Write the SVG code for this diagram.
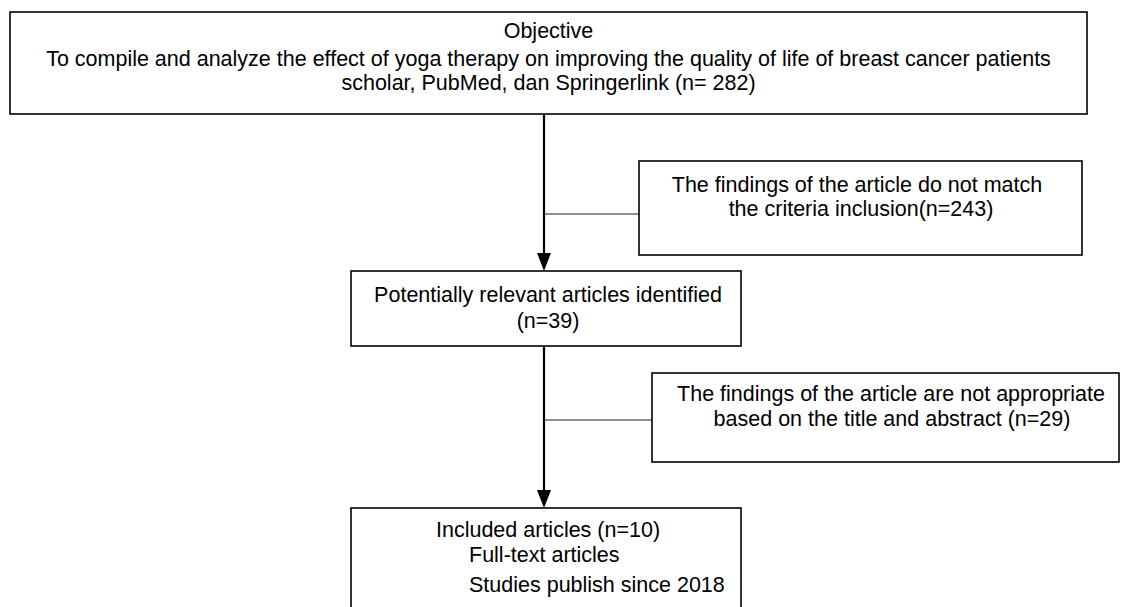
<svg xmlns="http://www.w3.org/2000/svg" width="1124" height="607" viewBox="0 0 1124 607">
<defs>
<style>
.box{fill:#fff;stroke:#000;stroke-width:1.6}
.t{font-family:"Liberation Sans",Arial,sans-serif;font-size:21.5px;fill:#000}
.c{text-anchor:middle}
.main{stroke:#000;stroke-width:2.2;fill:none}
.side{stroke:#222;stroke-width:1.2;fill:none}
.head{fill:#000}
</style>
</defs>
<rect width="1124" height="607" fill="#fff"/>
<g id="connectors">
<line class="main" x1="544" y1="115" x2="544" y2="253"/>
<path class="head" d="M537,253 L551,253 L544,271 Z"/>
<line class="side" x1="544" y1="214" x2="639" y2="214"/>
<line class="main" x1="544" y1="346" x2="544" y2="490"/>
<path class="head" d="M537,490 L551,490 L544,508 Z"/>
<line class="side" x1="544" y1="420" x2="652" y2="420"/>
</g>
<g id="objective">
<rect class="box" x="10" y="12" width="1077" height="102"/>
<text class="t c" x="548.5" y="38">Objective</text>
<text class="t c" x="548.5" y="66">To compile and analyze the effect of yoga therapy on improving the quality of life of breast cancer patients</text>
<text class="t c" x="548.5" y="90">scholar, PubMed, dan Springerlink (n= 282)</text>
</g>
<g id="exclusion1">
<rect class="box" x="639" y="161" width="443" height="94"/>
<text class="t c" x="857" y="192">The findings of the article do not match</text>
<text class="t c" x="861" y="216">the criteria inclusion(n=243)</text>
</g>
<g id="relevant">
<rect class="box" x="351" y="271" width="390" height="75"/>
<text class="t c" x="548" y="302">Potentially relevant articles identified</text>
<text class="t c" x="548" y="328">(n=39)</text>
</g>
<g id="exclusion2">
<rect class="box" x="652" y="373" width="467" height="89"/>
<text class="t c" x="891" y="401">The findings of the article are not appropriate</text>
<text class="t c" x="892" y="426">based on the title and abstract (n=29)</text>
</g>
<g id="included">
<rect class="box" x="351" y="508" width="390" height="120"/>
<text class="t" x="436" y="537">Included articles (n=10)</text>
<text class="t" x="469" y="562">Full-text articles</text>
<text class="t" x="469" y="592">Studies publish since 2018</text>
</g>
</svg>
